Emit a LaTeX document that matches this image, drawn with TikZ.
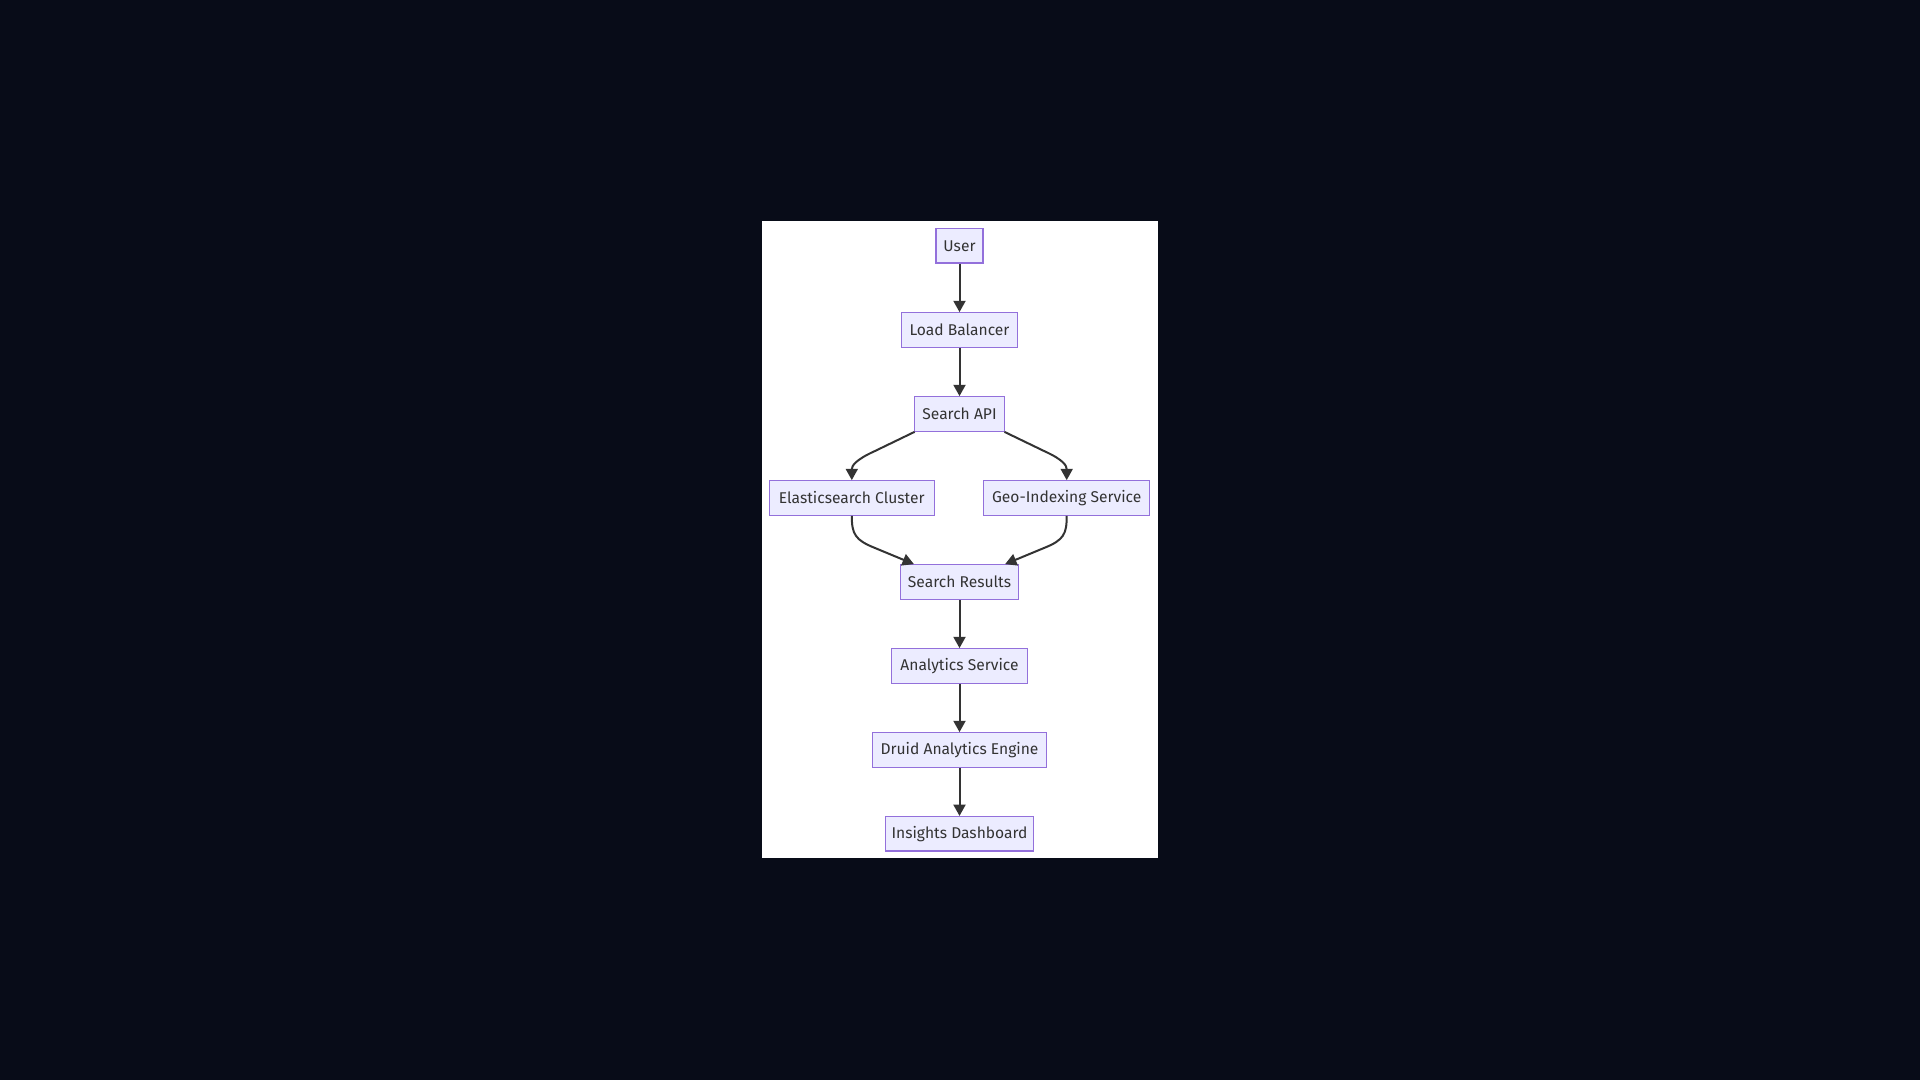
\documentclass[tikz,border=0pt]{standalone}
\usepackage{fontspec}
\setmainfont{Fira Sans}
\usetikzlibrary{arrows.meta,calc}
\definecolor{bgdark}{HTML}{080C18}
\definecolor{boxfill}{HTML}{ECECFF}
\definecolor{boxline}{HTML}{9370DB}
\definecolor{edgecol}{HTML}{333333}
\begin{document}
\begin{tikzpicture}[x=0.75pt,y=-0.75pt,
  flowbox/.style={draw=boxline,fill=boxfill,line width=0.9pt,inner xsep=0pt,inner ysep=0pt,
    minimum height=25.9pt,text=edgecol,font=\fontsize{11.7pt}{13pt}\selectfont},
  flowedge/.style={draw=edgecol,line width=1.5pt,-{Triangle[length=8.5pt,width=9pt]}}]
\fill[bgdark] (0,0) rectangle (1920,1080);
\useasboundingbox (0,0) rectangle (1920,1080);
\fill[white] (762,220.7) rectangle (1158,858.3);
\node[flowbox,minimum width=35.3pt] (user) at (959.5,245.8) {User};
\node[flowbox,minimum width=87.3pt] (lb) at (959.5,330) {Load Balancer};
\node[flowbox,minimum width=68pt] (api) at (959.5,414) {Search API};
\node[flowbox,minimum width=123.8pt] (es) at (851.8,498) {Elasticsearch Cluster};
\node[flowbox,minimum width=124.5pt] (geo) at (1066.7,498) {Geo-Indexing Service};
\node[flowbox,minimum width=88.5pt] (sr) at (959.5,582) {Search Results};
\node[flowbox,minimum width=102.5pt] (an) at (959.5,666) {Analytics Service};
\node[flowbox,minimum width=131pt] (druid) at (959.5,750) {Druid Analytics Engine};
\node[flowbox,minimum width=111.5pt] (ins) at (959.5,833.8) {Insights Dashboard};
\draw[flowedge] (user) -- (lb);
\draw[flowedge] (lb) -- (api);
\draw[flowedge] ($(api.south west)+(1,0)$) -- (875,451) .. controls (855,460) and (851.8,466) .. (es.north);
\draw[flowedge] ($(api.south east)+(-1,0)$) -- (1044,451) .. controls (1064,460) and (1066.7,466) .. (geo.north);
\draw[flowedge] (es.south) .. controls (851.8,534) and (855,540) .. (875,548) -- ($(sr.north west)+(14,0)$);
\draw[flowedge] (geo.south) .. controls (1066.7,534) and (1064,540) .. (1044,548) -- ($(sr.north east)+(-14,0)$);
\draw[flowedge] (sr) -- (an);
\draw[flowedge] (an) -- (druid);
\draw[flowedge] (druid) -- (ins);
\end{tikzpicture}
\end{document}
